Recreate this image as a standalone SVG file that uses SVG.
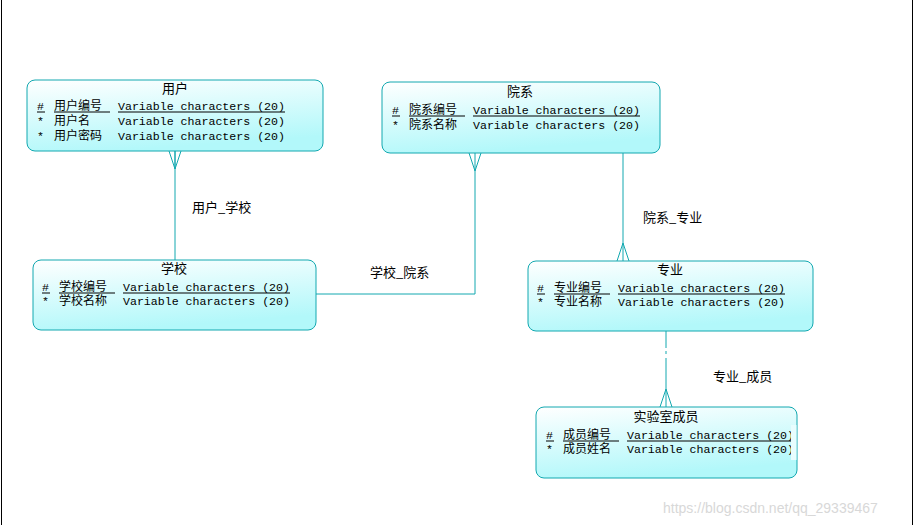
<svg xmlns="http://www.w3.org/2000/svg" width="915" height="525" viewBox="0 0 915 525">
<defs>
<linearGradient id="g" x1="0" y1="0" x2="0.3" y2="1"><stop offset="0" stop-color="#ffffff"/><stop offset="1" stop-color="#b2f8fa"/></linearGradient>
<style>
.box{fill:url(#g);stroke:#12a8b0;stroke-width:1}
.t{font-family:"Noto Sans CJK SC","Liberation Sans",sans-serif;font-size:13px;fill:#000}
.r{font-family:"Noto Sans CJK SC","Liberation Sans",sans-serif;font-size:12px;fill:#000}
.m{font-family:"Liberation Mono","Noto Sans CJK SC",monospace;font-size:11.6px;fill:#000}
.c{font-family:"Noto Sans CJK SC",sans-serif;font-size:13px;fill:#000}
.u{stroke:#000;stroke-width:1}
.ln{stroke:#12a8b0;stroke-width:1;fill:none}
</style>
</defs>
<rect width="915" height="525" fill="#fff"/>
<line x1="1.5" y1="0" x2="1.5" y2="525" stroke="#000"/>
<line x1="912.5" y1="0" x2="912.5" y2="525" stroke="#000"/>
<g id="connectors">
<line class="ln" x1="175" y1="151" x2="175" y2="260"/>
<path class="ln" d="M169,151 L175,169 L181,151 M175,151 V169"/>
<path class="ln" d="M316,294 H475 V153"/>
<path class="ln" d="M469,153 L475,171 L481,153"/>
<line class="ln" x1="623" y1="153" x2="623" y2="261"/>
<path class="ln" d="M617,261 L623,243 L629,261"/>
<path class="ln" d="M666,331 V348 M666,351 V354 M666,358 V407"/>
<path class="ln" d="M660,407 L666,389 L672,407"/>
<text class="c" x="192" y="212">用户_学校</text>
<text class="c" x="370" y="277">学校_院系</text>
<text class="c" x="643" y="222">院系_专业</text>
<text class="c" x="713" y="381">专业_成员</text>
</g>
<g id="user">
<rect class="box" x="27" y="80" width="296" height="71" rx="8"/>
<text class="t" x="175" y="93" text-anchor="middle">用户</text>
<text class="m" x="37" y="110">#</text><text class="r" x="54" y="110">用户编号</text><text class="m" x="118" y="110">Variable characters (20)</text>
<line class="u" x1="37" y1="112" x2="45" y2="112"/><line class="u" x1="54" y1="112" x2="110" y2="112"/><line class="u" x1="118" y1="112" x2="285" y2="112"/>
<text class="m" x="37" y="125">*</text><text class="r" x="54" y="125">用户名</text><text class="m" x="118" y="125">Variable characters (20)</text>
<text class="m" x="37" y="140">*</text><text class="r" x="54" y="140">用户密码</text><text class="m" x="118" y="140">Variable characters (20)</text>
</g>
<g id="dept">
<rect class="box" x="382" y="82" width="278" height="71" rx="8"/>
<text class="t" x="520" y="96" text-anchor="middle">院系</text>
<text class="m" x="392" y="114">#</text><text class="r" x="409" y="114">院系编号</text><text class="m" x="473" y="114">Variable characters (20)</text>
<line class="u" x1="392" y1="116" x2="400" y2="116"/><line class="u" x1="409" y1="116" x2="465" y2="116"/><line class="u" x1="473" y1="116" x2="640" y2="116"/>
<text class="m" x="392" y="129">*</text><text class="r" x="409" y="129">院系名称</text><text class="m" x="473" y="129">Variable characters (20)</text>
</g>
<g id="school">
<rect class="box" x="33" y="260" width="283" height="70" rx="8"/>
<text class="t" x="174" y="273" text-anchor="middle">学校</text>
<text class="m" x="42" y="291">#</text><text class="r" x="59" y="291">学校编号</text><text class="m" x="123" y="291">Variable characters (20)</text>
<line class="u" x1="42" y1="293" x2="50" y2="293"/><line class="u" x1="59" y1="293" x2="115" y2="293"/><line class="u" x1="123" y1="293" x2="290" y2="293"/>
<text class="m" x="42" y="305">*</text><text class="r" x="59" y="305">学校名称</text><text class="m" x="123" y="305">Variable characters (20)</text>
</g>
<g id="major">
<rect class="box" x="528" y="261" width="285" height="70" rx="8"/>
<text class="t" x="670" y="274" text-anchor="middle">专业</text>
<text class="m" x="537" y="292">#</text><text class="r" x="554" y="292">专业编号</text><text class="m" x="618" y="292">Variable characters (20)</text>
<line class="u" x1="537" y1="294" x2="545" y2="294"/><line class="u" x1="554" y1="294" x2="610" y2="294"/><line class="u" x1="618" y1="294" x2="785" y2="294"/>
<text class="m" x="537" y="306">*</text><text class="r" x="554" y="306">专业名称</text><text class="m" x="618" y="306">Variable characters (20)</text>
</g>
<g id="member">
<rect class="box" x="536" y="407" width="261" height="71" rx="8"/>
<text class="t" x="666" y="421" text-anchor="middle">实验室成员</text>
<text class="m" x="546" y="439">#</text><text class="r" x="563" y="439">成员编号</text><text class="m" x="627" y="439">Variable characters (20)</text>
<line class="u" x1="546" y1="441" x2="554" y2="441"/><line class="u" x1="563" y1="441" x2="619" y2="441"/><line class="u" x1="627" y1="441" x2="791" y2="441"/>
<text class="m" x="546" y="453">*</text><text class="r" x="563" y="453">成员姓名</text><text class="m" x="627" y="453">Variable characters (20)</text>
<rect x="791" y="425" width="5.5" height="35" fill="#e8fdfe"/>
</g>
<text x="663" y="513" font-family="Liberation Sans,sans-serif" font-size="14" fill="#d8d8d8">https://blog.csdn.net/qq_29339467</text>
</svg>
